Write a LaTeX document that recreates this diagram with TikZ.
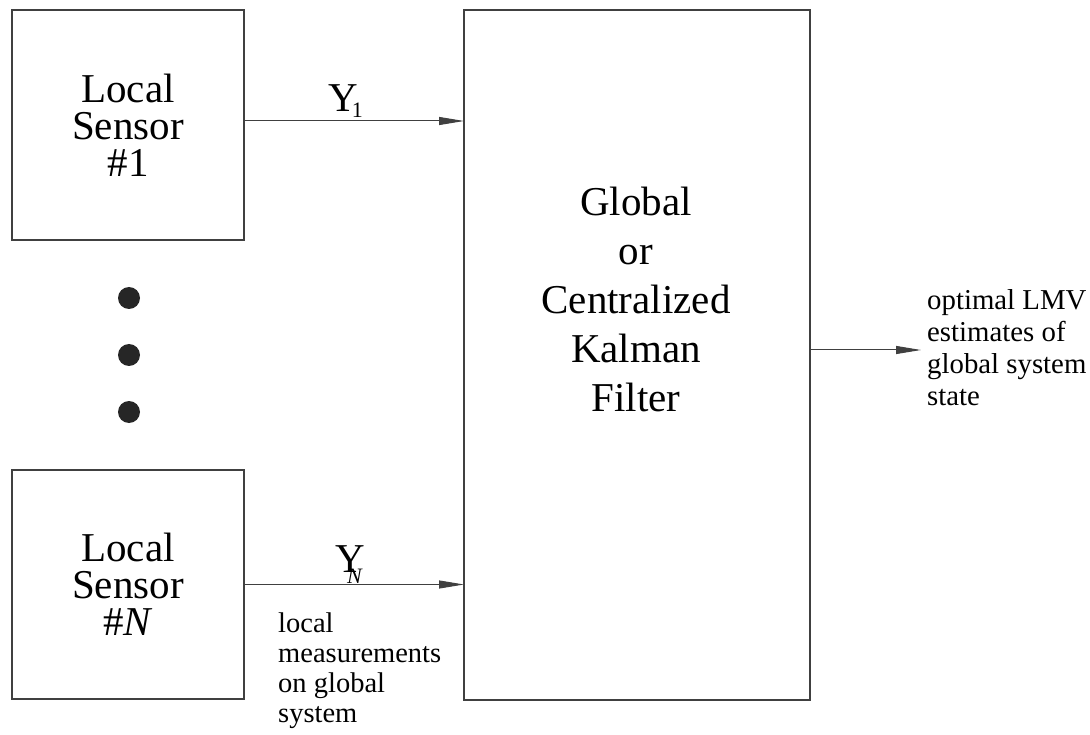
\documentclass[tikz,border=0pt]{standalone}
\usepackage{fontspec}
\setmainfont{Liberation Serif}
\usetikzlibrary{arrows.meta}
\begin{document}
\begin{tikzpicture}[x=1pt,y=-1pt,
  blk/.style={draw=black!75, line width=1.3pt, inner sep=0pt, outer sep=0pt, align=center, font=\fontsize{41}{37}\selectfont},
  arr/.style={draw=black!75, line width=1pt, -{Triangle[length=25pt,width=8pt]}},
  dotn/.style={circle, fill=black!85, minimum size=22pt, inner sep=0pt},
  lbl/.style={inner sep=0pt, font=\fontsize{41}{41}\selectfont},
  note/.style={inner sep=0pt, align=left}]
\useasboundingbox (0,0) rectangle (1090,735);
% boxes
\node[blk, minimum width=232pt, minimum height=230pt] (s1) at (128,125) {Local\\Sensor\\\#1};
\node[blk, minimum width=232pt, minimum height=229pt] (sN) at (128,584.5) {Local\\Sensor\\\#\textit{N}};
\node[blk, minimum width=346pt, minimum height=690pt] (kf) at (637,355) {};
\node[inner sep=0pt, anchor=north, align=center, font=\fontsize{41}{49}\selectfont] (kft) at (636,187) {Global\\or\\Centralized\\Kalman\\Filter};
% dots
\node[dotn] (d1) at (129,298) {};
\node[dotn] (d2) at (129,355) {};
\node[dotn] (d3) at (129,412) {};
% arrows
\draw[arr] ([yshift=4pt]s1.east) -- ([yshift=4pt]s1.east -| kf.west);
\draw[arr] (sN.east) -- (sN.east -| kf.west);
\coordinate (out) at (921,350);
\draw[arr] (kf.east |- out) -- (out);
% labels
\node[lbl, anchor=base west] (y1) at (328,112) {Y\kern-6pt\raisebox{-6pt}{\fontsize{22}{22}\selectfont 1}};
\node[lbl, anchor=base west] (yN) at (335,572) {Y\kern-17.6pt\raisebox{-11pt}{\fontsize{22}{22}\selectfont\itshape N}};
\node[note, anchor=north west, font=\fontsize{28.5}{30}\selectfont] (meas) at (278,612.5) {local\\measurements\\on global\\system};
\node[note, anchor=north west, font=\fontsize{28.8}{32}\selectfont] (est) at (927,289) {optimal LMV\\estimates of\\global system\\state};
\end{tikzpicture}
\end{document}
